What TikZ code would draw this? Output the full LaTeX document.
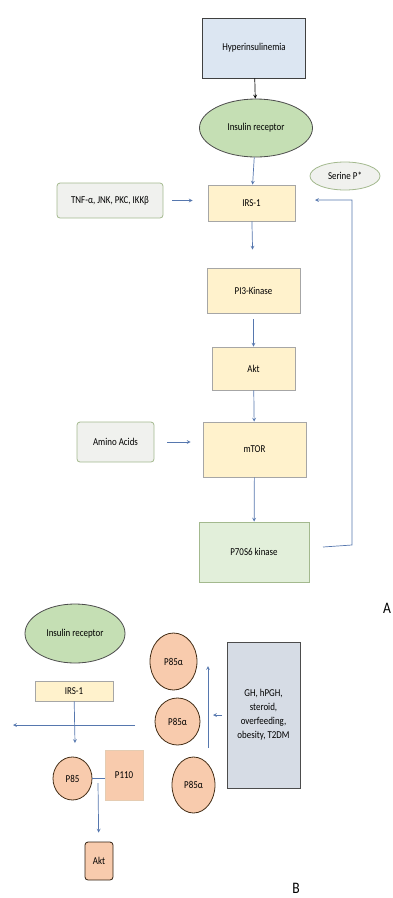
\documentclass[tikz,border=0pt]{standalone}
\usepackage{fontspec}
\setmainfont{Carlito}[FakeStretch=0.85]
\usepackage{tikz}
\usetikzlibrary{shapes.geometric, arrows}
\definecolor{hypblue}{HTML}{DCE6F2}
\definecolor{recgreen}{HTML}{C5DFB4}
\definecolor{irsyellow}{HTML}{FFF2CC}
\definecolor{paleggray}{HTML}{F0F1EE}
\definecolor{sixgreen}{HTML}{E2EFDA}
\definecolor{pkorange}{HTML}{F8CBAD}
\definecolor{ghgray}{HTML}{D6DCE5}
\definecolor{arrowblue}{HTML}{5677AE}
\definecolor{edgegreen}{HTML}{A3B98E}
\tikzstyle{topbox} = [rectangle, 
minimum width=103pt, 
minimum height=60pt,
text centered, 
draw=black!75, 
fill=hypblue]
\tikzstyle{receptor} = [ellipse, 
text centered, 
inner sep=0pt,
draw=black!70, 
fill=recgreen]
\tikzstyle{process} = [rectangle, 
text centered, 
inner sep=0pt,
draw=black!35, 
fill=irsyellow]
\tikzstyle{inhibit} = [rectangle, rounded corners=3pt, 
text centered, 
inner sep=0pt,
draw=edgegreen, 
fill=paleggray]
\tikzstyle{pkcircle} = [ellipse, 
text centered, 
inner sep=0pt,
draw=black!65!brown, 
fill=pkorange]
\tikzstyle{arrow} = [line width=0.7pt,->,>=stealth,draw=arrowblue]
\tikzstyle{plain} = [line width=0.7pt,draw=arrowblue]

\begin{document}
\begin{tikzpicture}[x=1pt, y=-1pt, font=\fontsize{10.5}{12}\selectfont, line width=0.8pt]
\useasboundingbox (0,0) rectangle (392,898);

% A
\node (hyper) [topbox] at (254,48) {Hyperinsulinemia};
\node (recA) [receptor, minimum width=113pt, minimum height=58pt] at (256,128) {Insulin receptor};
\node (irsA) [process, minimum width=87pt, minimum height=36pt] at (251.5,203) {IRS-1};
\node (tnf) [inhibit, minimum width=106pt, minimum height=35pt] at (110,200.5) {TNF-α, JNK, PKC, IKKβ};
\node (serine) [ellipse, draw=edgegreen, fill=paleggray, inner sep=0pt, minimum width=70pt, minimum height=28pt] at (345,176) {Serine P*};
\node (pik) [process, minimum width=93pt, minimum height=45pt] at (253.5,290.5) {PI3-Kinase};
\node (aktA) [process, minimum width=83pt, minimum height=43pt] at (253.5,368.5) {Akt};
\node (mtor) [process, minimum width=103pt, minimum height=55pt] at (254.5,449.5) {mTOR};
\node (amino) [inhibit, minimum width=77pt, minimum height=40pt] at (115.5,442) {Amino Acids};
\node (psix) [rectangle, draw=edgegreen, fill=sixgreen, inner sep=0pt, minimum width=110pt, minimum height=60pt] at (254,552) {P70S6 kinase};
\node (labA) at (387,608) {\fontsize{16}{16}\selectfont A};

\coordinate (fbA) at (323,547);
\coordinate (fbB) at (352,545);
\coordinate (fbC) at (352,200);
\coordinate (fbD) at (315,200);

\draw [line width=0.7pt,->,>=stealth] (hyper) -- (recA);
\draw [arrow] (recA) -- (irsA);
\draw [arrow, shorten <=9pt, shorten >=15pt] (tnf.east) -- (tnf.east -| irsA.west);
\draw [arrow, shorten >=18pt] (irsA) -- (pik);
\draw [arrow, shorten <=6pt] (pik) -- (aktA);
\draw [arrow] (aktA) -- (mtor);
\draw [arrow, shorten <=13pt, shorten >=12pt] (amino.east) -- (amino.east -| mtor.west);
\draw [arrow] (mtor) -- (psix);
\draw [arrow] (fbA) -- (fbB) -- (fbC) -- (fbD);

% B
\node (recB) [receptor, minimum width=100pt, minimum height=59pt] at (75,633.5) {Insulin receptor};
\node (irsB) [process, minimum width=78pt, minimum height=20pt] at (74,691) {IRS-1};
\node (pe) [pkcircle, minimum width=39pt, minimum height=43pt] at (72.5,778.5) {P85};
\node (pten) [rectangle, draw=brown!40, fill=pkorange, inner sep=0pt, minimum width=38pt, minimum height=50pt] at (124,775) {P110};
\node (aktB) [rectangle, rounded corners=3pt, draw=black!75!brown, fill=pkorange, inner sep=0pt, minimum width=28pt, minimum height=38pt] at (99,861) {Akt};
\node (alphaA) [pkcircle, minimum width=47pt, minimum height=57pt] at (173.5,661.5) {P85α};
\node (alphaB) [pkcircle, minimum width=45pt, minimum height=47pt] at (177.5,721.5) {P85α};
\node (alphaC) [pkcircle, minimum width=43pt, minimum height=56pt] at (193.5,785) {P85α};
\node (gh) [rectangle, draw=black!70, fill=ghgray, align=center, inner sep=0pt, minimum width=73pt, minimum height=146pt] at (263.5,715) {GH, hPGH,\\[2pt] steroid,\\[2pt] overfeeding,\\[2pt] obesity, T2DM};
\node (labB) at (296,888) {\fontsize{16}{16}\selectfont B};

\coordinate (hlA) at (135,725);
\coordinate (hlB) at (13,725);
\coordinate (irsdown) at (75,743);
\coordinate (joinA) at (98,783);
\coordinate (upA) at (208,748);
\coordinate (upB) at (208,666);
\coordinate (ghin) at (222,715);
\coordinate (ghout) at (213,715);

\draw [arrow] (hlA) -- (hlB);
\draw [arrow] (irsB) -- (irsdown);
\draw [plain] (pe.east) -- (pe.east -| pten.west);
\draw [arrow, shorten >=9pt] (joinA) -- (aktB);
\draw [arrow] (upA) -- (upB);
\draw [arrow] (ghin) -- (ghout);

\end{tikzpicture}
\end{document}
